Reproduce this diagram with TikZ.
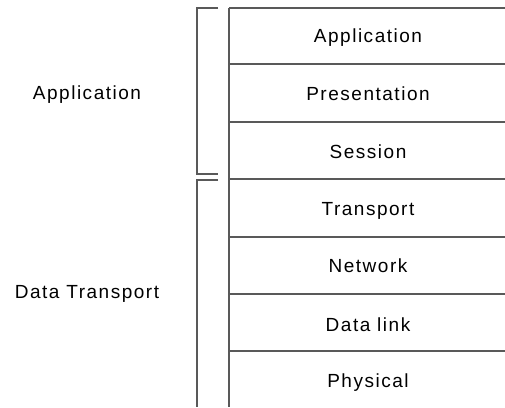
\documentclass[tikz,border=0pt]{standalone}
\usepackage{fontspec}
\setmainfont{Liberation Sans}[LetterSpace=8]
\usetikzlibrary{positioning}

\begin{document}
\begin{tikzpicture}[x=1pt,y=-1pt,
        layer/.style={font=\fontsize{19}{22}\selectfont, inner sep=0pt,
            text height=13.6pt, text depth=0pt},
        rule/.style={draw=black!65, line width=1.1pt}]
        \useasboundingbox (0,0) rectangle (505,407);

        % the stack of layers
        \draw[rule] (229,8) -- (229,407);
        \foreach \y in {8,64,122,179,237,294,351}{
                \draw[rule] (229,\y) -- (505,\y);
            }

        \foreach \name/\y/\txt in {
                app/36/Application,
                pres/94/Presentation,
                sess/152/Session,
                trans/209/Transport,
                net/266/Network,
                link/325/Data link,
                phys/381/Physical}{
                \node[layer] (\name) at (368,\y) {\txt};
            }

        % brackets
        \draw[rule] (218,8) -- (197,8) -- (197,174) -- (218,174);
        \draw[rule] (218,180) -- (197,180) -- (197,407);

        \node[layer] (upper) at (87,93) {Application};
        \node[layer] (lower) at (87,292) {Data Transport};

    \end{tikzpicture}
\end{document}
